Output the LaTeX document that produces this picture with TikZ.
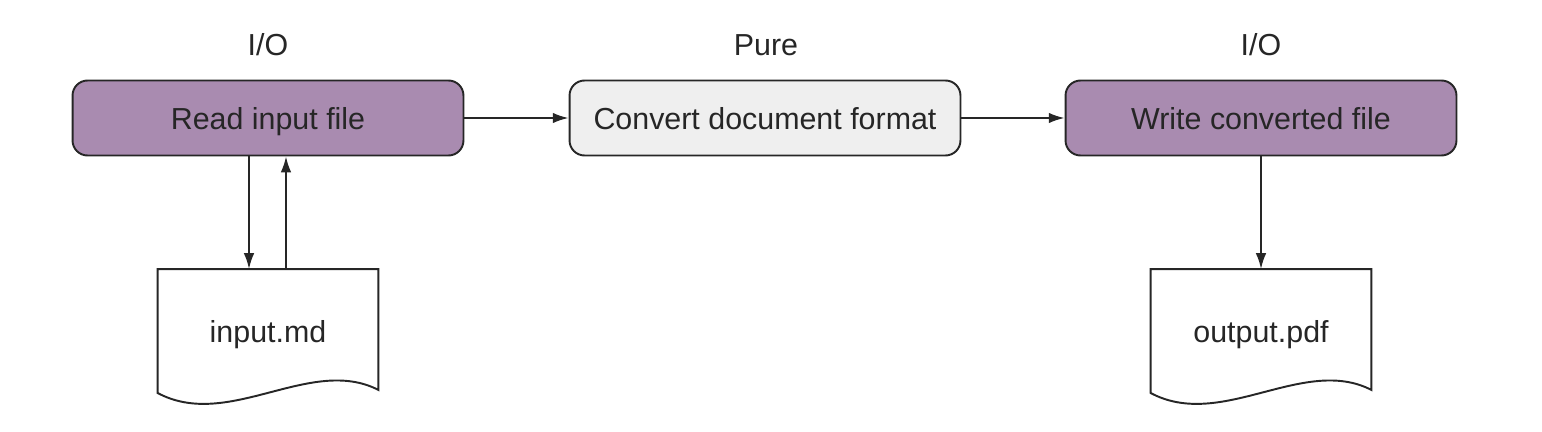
\documentclass[tikz,border=0pt]{standalone}
\usepackage{fontspec}
\setmainfont{Liberation Sans}
\usetikzlibrary{arrows.meta,positioning}
\definecolor{iopurple}{RGB}{169,139,176}
\definecolor{purefill}{RGB}{239,239,239}
\definecolor{ink}{RGB}{38,38,38}

\begin{document}
\begin{tikzpicture}[x=0.02cm, y=-0.02cm, >={Latex[length=9pt,width=6pt]},
  line width=1.1pt, draw=ink, text=ink, font=\fontsize{17.3}{20}\selectfont,
  step box/.style={rectangle, rounded corners=0.3cm, draw=ink, minimum width=7.82cm,
    minimum height=1.5cm, text height=15pt, text depth=1.8pt},
  io/.style={step box, fill=iopurple},
  pure/.style={step box, fill=purefill},
  doc/.style={rectangle, minimum width=4.38cm, minimum height=2.4cm,
    text height=15.5pt, text depth=1pt},
  flow/.style={->, draw=ink, line width=1.1pt},
  tag/.style={}]
        \useasboundingbox (0,0) rectangle (1542,432);
        \node [io] (read) at (268,118) {Read input file};
        \node [pure] (conv) at (765,118) {Convert document format};
        \node [io] (write) at (1261,118) {Write converted file};
        \node [tag] (tagread) at (268,45) {I/O};
        \node [tag] (tagconv) at (766,45) {Pure};
        \node [tag] (tagwrite) at (1261,45) {I/O};
        \node [doc] (inmd) at (268,330) {input.md};
        \node [doc] (outpdf) at (1261,330) {output.pdf};
        % document outlines with a wavy bottom edge
        \foreach \d in {inmd, outpdf}
          \draw (\d.south west) -- (\d.north west) -- (\d.north east)
            -- ([yshift=0.02cm]\d.south east)
            .. controls ([shift={(-68,-36)}]\d.south east) and ([shift={(71,40)}]\d.south west)
            .. ([yshift=-0.04cm]\d.south west) -- cycle;
        \draw [flow] (read) -- (conv);
        \draw [flow] (conv) -- (write);
        \draw [flow] ([xshift=-0.38cm]read.south) -- ([xshift=-0.38cm]inmd.north);
        \draw [flow] ([xshift=0.36cm]inmd.north) -- ([xshift=0.36cm]read.south);
        \draw [flow] (write) -- (outpdf);
    \end{tikzpicture}
\end{document}
